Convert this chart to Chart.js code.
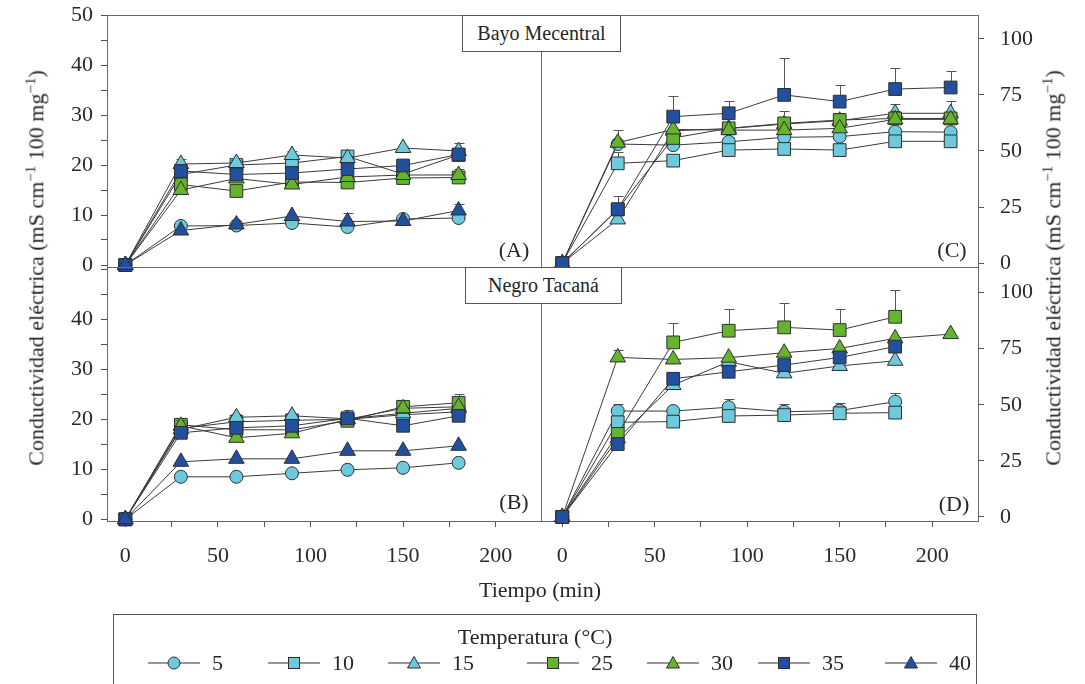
<!DOCTYPE html>
<html>
<head>
<meta charset="utf-8">
<script src="https://cdn.jsdelivr.net/npm/chart.js@4.4.0/dist/chart.umd.min.js"></script>
<style>
  body { margin: 0; width: 1085px; height: 684px; overflow: hidden; position: relative; background: #fff;
         font-family: "Liberation Serif", serif; color: #262626; }
  canvas { position: absolute; left: 0; top: 0; }
  .txt { position: absolute; white-space: nowrap; transform: translate(-50%, -50%); }
  .rot { position: absolute; white-space: nowrap; font-size: 22px; transform: translate(-50%, -50%) rotate(-90deg); }
  .rot sup { font-size: 15px; }
  .caja { position: absolute; border: 1px solid #555; background: #fff; font-size: 20px;
          display: flex; align-items: center; justify-content: center; box-sizing: border-box; }
  #leyenda { position: absolute; left: 113px; top: 614px; width: 864px; height: 90px; border: 1px solid #555; box-sizing: border-box; }
  .item { position: absolute; top: 663px; transform: translateY(-50%); font-size: 22px; }
</style>
</head>
<body>
<canvas id="cA" width="1085" height="684"></canvas>
<canvas id="cB" width="1085" height="684"></canvas>
<canvas id="cC" width="1085" height="684"></canvas>
<canvas id="cD" width="1085" height="684"></canvas>

<div class="caja" style="left:462px;top:15px;width:159px;height:37px;">Bayo Mecentral</div>
<div class="caja" style="left:465px;top:267px;width:157px;height:37px;">Negro Tacaná</div>

<div class="txt" style="left:514px;top:250px;font-size:22px;">(A)</div>
<div class="txt" style="left:952px;top:250px;font-size:22px;">(C)</div>
<div class="txt" style="left:514px;top:502px;font-size:22px;">(B)</div>
<div class="txt" style="left:954px;top:504px;font-size:22px;">(D)</div>

<div class="rot" style="left:36px;top:268px;">Conductividad eléctrica (mS cm<sup>−1</sup> 100 mg<sup>−1</sup>)</div>
<div class="rot" style="left:1053px;top:268px;">Conductividad eléctrica (mS cm<sup>−1</sup> 100 mg<sup>−1</sup>)</div>
<div class="txt" style="left:540px;top:590px;font-size:22px;">Tiempo (min)</div>

<div id="leyenda"></div>
<div class="txt" style="left:535px;top:637px;font-size:22px;">Temperatura (°C)</div>

<script>
const tiempos = [0, 30, 60, 90, 120, 150, 180, 210];
const temperaturas = [5, 10, 15, 25, 30, 35, 40];

// (A) Bayo Mecentral, eje izquierdo
const a5  = [0, 7.8, 7.9, 8.4, 7.6, 9.2, 9.4];
const a10 = [0, 18.1, 20.0, 20.4, 21.7, 18.2, 22.0];
const a15 = [0, 20.2, 20.4, 22.0, 21.4, 23.4, 22.8];
const a25 = [0, 16.1, 14.8, 16.6, 16.5, 17.4, 17.5];
const a30 = [0, 15.0, 17.3, 16.1, 17.6, 18.0, 18.0];
const a35 = [0, 18.8, 18.1, 18.4, 19.2, 19.9, 22.1];
const a40 = [0, 6.9, 8.1, 9.8, 8.7, 8.8, 10.9];
const errA5  = [0, 0, 0, 0, 0, 0.6, 0];
const errA15 = [0, 1.0, 0.6, 0.8, 0.5, 0.5, 1.6];
const errA30 = [0, 0, 0, 0, 0, 0, 1.2];
const errA40 = [0, 0, 0, 0, 1.7, 0, 1.3];

// (B) Negro Tacaná, eje izquierdo
const b5  = [0, 8.5, 8.5, 9.2, 9.9, 10.3, 11.3];
const b10 = [0, 18.2, 19.5, 19.8, 20.0, 20.9, 21.5];
const b15 = [0, 18.0, 20.4, 20.7, 20.1, 21.2, 22.2];
const b25 = [0, 18.9, 17.9, 17.9, 19.7, 22.5, 23.3];
const b30 = [0, 18.7, 16.3, 17.2, 20.0, 22.2, 22.5];
const b35 = [0, 17.3, 18.3, 18.7, 20.2, 18.7, 20.7];
const b40 = [0, 11.5, 12.1, 12.1, 13.7, 13.7, 14.7];
const errB15 = [0, 0, 0.7, 0, 0, 0, 0];
const errB25 = [0, 0, 0, 0, 0, 0, 1.7];
const errB30 = [0, 1.2, 0, 0, 0, 0, 0];
const errB35 = [0, 0, 0, 0, 1.6, 0, 0];

// (C) Bayo Mecentral, eje derecho
const c5  = [0, 53.1, 52.6, 54.1, 56.1, 56.4, 58.6, 58.4];
const c10 = [0, 44.5, 45.7, 50.4, 50.9, 50.4, 54.3, 54.3];
const c15 = [0, 19.5, 59.0, 60.0, 62.0, 63.5, 66.8, 66.8];
const c25 = [0, 24.0, 55.8, 60.1, 62.3, 63.8, 64.5, 64.5];
const c30 = [0, 53.7, 59.6, 59.3, 59.3, 60.1, 64.1, 64.1];
const c35 = [0, 24.0, 65.3, 66.8, 75.0, 72.0, 77.6, 78.3];
const errC5  = [0, 0, 0, 2, 2, 2, 1.5, 1.5];
const errC10 = [0, 5, 2, 0, 0, 0, 0, 0];
const errC15 = [0, 0, 0, 0, 0, 0, 4, 5.5];
const errC25 = [0, 0, 0, 4.5, 5.5, 3, 3.5, 0];
const errC30 = [0, 5.6, 0, 0, 0, 0, 0, 0];
const errC35 = [0, 6, 9.3, 5.6, 16.5, 7.5, 9.5, 7.5];

// (D) Negro Tacaná, eje derecho
const d5  = [0, 47.2, 47.2, 48.9, 46.9, 47.4, 51.4];
const d10 = [0, 42.2, 42.5, 45.0, 45.4, 46.2, 46.5];
const d15 = [0, 35.0, 58.8, 69.2, 64.0, 67.3, 69.6];
const d25 = [0, 37.0, 77.8, 83.0, 84.5, 83.3, 89.2];
const d30 = [0, 71.1, 70.2, 71.0, 73.2, 75.1, 79.6, 81.5];
const d35 = [0, 32.5, 61.6, 64.7, 67.7, 71.1, 75.9];
const errD5  = [0, 3, 2, 3.5, 3.4, 3.2, 3.7];
const errD25 = [0, 0, 8.8, 9.5, 11, 9.2, 12];
const errD30 = [0, 3.3, 0, 0, 0, 0, 0, 0];

const cian = '#6ccadc', verde = '#66b42e', azul = '#234f9f';
const estilo = {
  5:  {color: cian,  forma: 'circle',   r: 6.5},
  10: {color: cian,  forma: 'rect',     r: 9},
  15: {color: cian,  forma: 'triangle', r: 9},
  25: {color: verde, forma: 'rect',     r: 9},
  30: {color: verde, forma: 'triangle', r: 9},
  35: {color: azul,  forma: 'rect',     r: 9},
  40: {color: azul,  forma: 'triangle', r: 9}
};

Chart.defaults.font.family = '"Liberation Serif", serif';
const fuente = {family: '"Liberation Serif", serif', size: 22};

function serie(temp, valores, errores) {
  const e = estilo[temp];
  return {
    label: temp + ' °C',
    data: valores.map((v, i) => ({x: tiempos[i], y: v})),
    borderColor: '#3a3a3a', borderWidth: 1,
    pointStyle: e.forma, pointRadius: e.r,
    pointBackgroundColor: e.color, pointBorderColor: '#2e2e2e', pointBorderWidth: 1,
    clip: false, tension: 0, fill: false,
    order: 10 - temperaturas.indexOf(temp),
    errores: errores || []
  };
}

// marco del panel
const marco = {
  id: 'marco',
  beforeDatasetsDraw(chart) {
    const {ctx, chartArea: a} = chart;
    ctx.save();
    ctx.strokeStyle = '#666';
    ctx.lineWidth = 1;
    ctx.strokeRect(Math.round(a.left) + 0.5, Math.round(a.top) + 0.5,
                   Math.round(a.right - a.left), Math.round(a.bottom - a.top));
    ctx.restore();
  }
};

// barras de error (solo hacia arriba)
const barrasError = {
  id: 'barrasError',
  beforeDatasetDraw(chart, args) {
    const ds = chart.data.datasets[args.index];
    if (!ds.errores || !ds.errores.length) return;
    const {ctx, scales: {x, y}} = chart;
    ctx.save();
    ctx.strokeStyle = '#555';
    ctx.lineWidth = 1;
    ds.data.forEach((p, i) => {
      const e = ds.errores[i];
      if (!e) return;
      const px = Math.round(x.getPixelForValue(p.x)) + 0.5;
      const py = y.getPixelForValue(p.y);
      const pt = Math.round(y.getPixelForValue(p.y + e)) + 0.5;
      ctx.beginPath();
      ctx.moveTo(px, py); ctx.lineTo(px, pt);
      ctx.moveTo(px - 5, pt); ctx.lineTo(px + 5, pt);
      ctx.stroke();
    });
    ctx.restore();
  }
};

function ejeY(pos, min, max, paso, etiqueta, ancho, pad) {
  return {
    type: 'linear', position: pos, min, max,
    afterFit: s => { s.width = ancho; s.paddingTop = 0; s.paddingBottom = 0; },
    border: {display: false},
    grid: {drawOnChartArea: false, drawTicks: true, tickLength: 6, color: '#555'},
    ticks: {stepSize: paso, autoSkip: false, includeBounds: false, padding: pad,
            color: '#2a2a2a', font: fuente, callback: etiqueta}
  };
}

function ejeX(min, max, visible) {
  return {
    type: 'linear', min, max, display: visible,
    afterFit: s => { s.height = visible ? 60 : 0; s.paddingLeft = 0; s.paddingRight = 0; },
    border: {display: false},
    grid: {drawOnChartArea: false, drawTicks: true, tickLength: 6, color: '#555'},
    ticks: {stepSize: 25, autoSkip: false, includeBounds: false, padding: 16, maxRotation: 0,
            color: '#2a2a2a', font: fuente, callback: v => v % 50 === 0 ? v : ''}
  };
}

function panel(id, series, x, y, padding) {
  new Chart(document.getElementById(id), {
    type: 'line',
    data: {datasets: series},
    options: {
      responsive: false, animation: false, devicePixelRatio: 1, events: [],
      layout: {padding, autoPadding: false},
      plugins: {legend: {display: false}, tooltip: {enabled: false}},
      scales: {x, y}
    },
    plugins: [marco, barrasError]
  });
}

const cadaDiez = v => v % 10 === 0 ? v : '';
const cadaDiezSin50 = v => (v % 10 === 0 && v < 50) ? v : '';

panel('cA', [
  serie(5, a5, errA5), serie(10, a10), serie(15, a15, errA15), serie(25, a25),
  serie(30, a30, errA30), serie(35, a35), serie(40, a40, errA40)
], ejeX(-9.9, 224.5, false), ejeY('left', -0.4, 50, 5, cadaDiez, 107, 8),
   {left: 0, top: 15, right: 544, bottom: 417});

panel('cB', [
  serie(5, b5), serie(10, b10), serie(15, b15, errB15), serie(25, b25, errB25),
  serie(30, b30, errB30), serie(35, b35, errB35), serie(40, b40)
], ejeX(-9.9, 224.5, true), ejeY('left', -0.34, 50.46, 5, cadaDiezSin50, 107, 8),
   {left: 0, top: 267, right: 544, bottom: 103});

panel('cC', [
  serie(5, c5, errC5), serie(10, c10, errC10), serie(15, c15, errC15), serie(25, c25, errC25),
  serie(30, c30, errC30), serie(35, c35, errC35)
], ejeX(-11.5, 224.8, false), ejeY('right', -1.7, 110.6, 25, v => v, 70, 16),
   {left: 541, top: 15, right: 37, bottom: 417});

panel('cD', [
  serie(5, d5, errD5), serie(10, d10), serie(15, d15), serie(25, d25, errD25),
  serie(30, d30, errD30), serie(35, d35)
], ejeX(-11.5, 224.8, true), ejeY('right', -1.8, 111.4, 25, v => v, 70, 16),
   {left: 541, top: 267, right: 37, bottom: 103});

// leyenda
const centrosLeyenda = [174, 294, 414, 553, 673, 784, 911];
function marcador(temp) {
  const e = estilo[temp];
  let forma;
  if (e.forma === 'circle') forma = `<circle cx="26" cy="10" r="6" fill="${e.color}" stroke="#2e2e2e"/>`;
  else if (e.forma === 'rect') forma = `<rect x="20.5" y="4.5" width="11" height="11" fill="${e.color}" stroke="#2e2e2e"/>`;
  else forma = `<polygon points="26,3.5 32.5,15 19.5,15" fill="${e.color}" stroke="#2e2e2e"/>`;
  return `<svg width="52" height="20" style="display:block"><line x1="0" y1="10" x2="52" y2="10" stroke="#333" stroke-width="1"/>${forma}</svg>`;
}
temperaturas.forEach((t, i) => {
  const m = document.createElement('div');
  m.className = 'item';
  m.style.left = (centrosLeyenda[i] - 26) + 'px';
  m.innerHTML = marcador(t);
  document.body.appendChild(m);
  const l = document.createElement('div');
  l.className = 'item';
  l.style.left = (centrosLeyenda[i] + 38) + 'px';
  l.textContent = t;
  document.body.appendChild(l);
});
</script>
</body>
</html>
